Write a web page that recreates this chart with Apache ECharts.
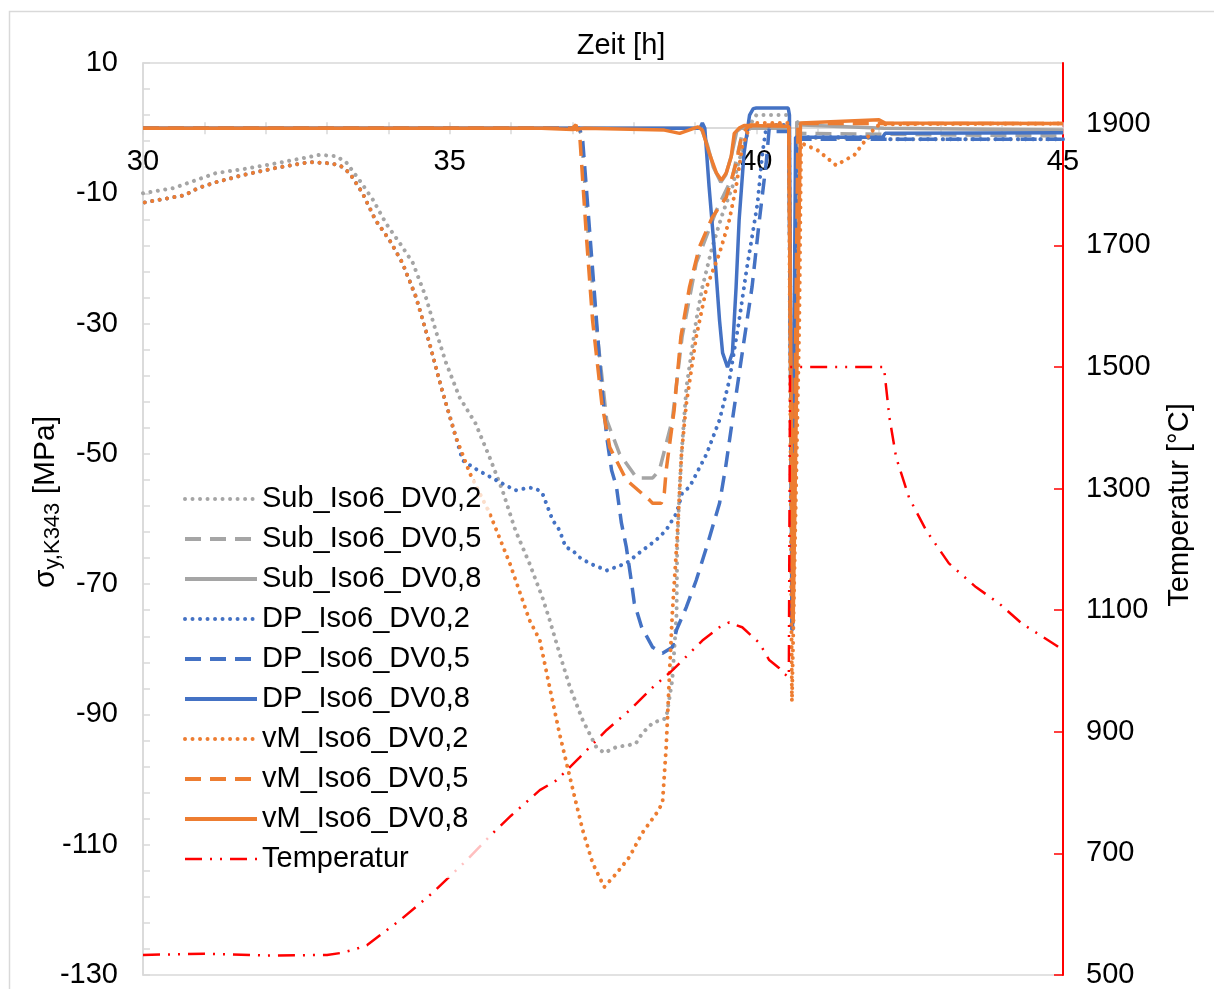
<!DOCTYPE html>
<html>
<head>
<meta charset="utf-8">
<script src="https://cdn.jsdelivr.net/npm/echarts@6/dist/echarts.min.js"></script>
<style>
html,body{margin:0;padding:0;background:#fff;}
#chart{width:1214px;height:989px;}
</style>
</head>
<body>
<div id="chart"></div>
<script>
// ---- data (time [h], stress [MPa] / temperature [°C]) ----
const seriesNames = ['Sub_Iso6_DV0,2','Sub_Iso6_DV0,5','Sub_Iso6_DV0,8','DP_Iso6_DV0,2','DP_Iso6_DV0,5','DP_Iso6_DV0,8','vM_Iso6_DV0,2','vM_Iso6_DV0,5','vM_Iso6_DV0,8','Temperatur'];
const xTicks = [30, 35, 40, 45];

const subDV02 = [[30,-10],[30.5,-9.2],[30.86,-8],[31.19,-6.9],[31.63,-6.3],[32.17,-5.4],[32.72,-4.4],[32.88,-4.1],[33.14,-4.3],[33.31,-5.2],[33.53,-8],[33.75,-11],[33.96,-14.6],[34.19,-17.7],[34.40,-20.7],[34.61,-25.9],[34.77,-31],[34.94,-36],[35.16,-41.3],[35.42,-45.3],[35.65,-50.5],[35.86,-55.6],[36.07,-61.7],[36.30,-66.8],[36.51,-72],[36.63,-75.5],[36.79,-80.6],[36.96,-85.8],[37.17,-90.9],[37.39,-95],[37.52,-95.9],[37.72,-95],[37.93,-94.7],[38.04,-94.4],[38.14,-92.9],[38.31,-91.3],[38.53,-90.6],[38.63,-84.7],[38.70,-74.5],[38.71,-64.3],[38.75,-55.1],[38.78,-50],[38.86,-39.8],[39.02,-29.5],[39.12,-24.4],[39.28,-18.3],[39.45,-13.1],[39.61,-9],[39.72,-4.9],[39.84,-1.4],[39.93,1],[40.0,2],[40.49,2],[40.535,1.5],[40.59,-76],[40.66,-1.5],[42.0,-1.5],[42.1,-1.7],[45,-1.7]];
const subDV05 = [[30,0],[37.1,0],[37.15,-1],[37.28,-19.2],[37.41,-32],[37.56,-44.8],[37.77,-50],[38.05,-53.7],[38.31,-53.7],[38.42,-52.5],[38.63,-44.8],[38.79,-32],[39.02,-20.7],[39.35,-12.6],[39.61,-7.5],[39.77,-0.8],[39.9,0.3],[40.53,0.3],[40.59,-76],[40.66,-0.8],[45,-1.2]];
const subDV08 = [[30,0],[39.1,0],[39.2,-2.5],[39.3,-6],[39.42,-8.3],[39.5,-7.2],[39.6,-4],[39.68,-0.5],[39.75,0],[40.53,0],[40.59,-76],[40.66,1],[40.75,0.5],[42.08,0],[45,-0.3]];
const dpDV02 = [[30.03,-11.4],[30.68,-10.3],[30.90,-9.2],[31.19,-8.3],[31.63,-7.2],[32.17,-6.1],[32.72,-5.2],[33.05,-5.4],[33.21,-5.7],[33.37,-6.9],[33.58,-10],[33.79,-14.1],[34.02,-17.2],[34.23,-20.7],[34.45,-25.9],[34.67,-33],[34.89,-40.7],[35.10,-47.4],[35.21,-51],[35.42,-52.3],[35.75,-54],[36.07,-55.6],[36.30,-55.2],[36.40,-55.3],[36.51,-56],[36.68,-60.2],[36.79,-61.7],[36.89,-64.3],[37.00,-64.8],[37.12,-65.9],[37.28,-66.8],[37.56,-67.9],[37.88,-66.8],[38.09,-65.2],[38.37,-63.2],[38.53,-61.7],[38.70,-59.1],[38.79,-56],[38.91,-55.1],[39.19,-50],[39.40,-44.8],[39.56,-38.7],[39.72,-29.5],[39.84,-21.8],[39.93,-16.7],[40.02,-11.5],[40.10,-3.8],[40.16,0],[40.25,0.5],[40.53,0.5],[40.59,-77],[40.66,-1.4],[42.05,-1.4],[42.1,-1.7],[45,-1.7]];
const dpDV05 = [[30,0],[37.12,0],[37.17,-2],[37.3,-18],[37.46,-37.6],[37.56,-47.4],[37.64,-52.5],[37.72,-55.1],[37.80,-60.6],[37.88,-64.3],[37.96,-69.4],[38.01,-72.9],[38.13,-76.6],[38.31,-79.7],[38.47,-80.6],[38.63,-79.7],[38.70,-77],[38.86,-73.5],[39.02,-69.4],[39.19,-64.3],[39.40,-57.6],[39.50,-52],[39.61,-44.8],[39.77,-34.5],[39.93,-24.4],[40.05,-14.1],[40.16,-5.4],[40.21,0],[40.3,-0.5],[40.53,-0.5],[40.59,-77],[40.66,-1.7],[45,-1.7]];
const dpDV08 = [[30,0],[39.08,0],[39.12,0.8],[39.16,0],[39.23,-9],[39.32,-19.2],[39.40,-29.5],[39.45,-34.5],[39.53,-36.7],[39.61,-34.5],[39.67,-24.4],[39.72,-14],[39.80,-3.8],[39.89,2],[39.95,3],[40.0,3.1],[40.52,3.1],[40.54,2],[40.58,-77],[40.64,-1.4],[42.06,-1.4],[42.1,-0.8],[45,-0.7]];
const vmDV02 = [[30.03,-11.4],[30.68,-10.3],[30.90,-9.2],[31.19,-8.3],[31.63,-7.2],[32.17,-6.1],[32.72,-5.2],[33.05,-5.4],[33.21,-5.7],[33.37,-6.9],[33.58,-10],[33.79,-14.1],[34.02,-17.2],[34.23,-20.7],[34.45,-25.9],[34.67,-33],[34.89,-40.7],[35.10,-47.4],[35.33,-53],[35.65,-59.1],[35.98,-66.8],[36.30,-75.5],[36.47,-78.6],[36.63,-85.8],[36.79,-92.9],[37.00,-101.2],[37.17,-107.8],[37.33,-112.8],[37.52,-116.5],[37.72,-114.4],[37.93,-111.9],[38.14,-108.2],[38.37,-105.2],[38.47,-103.6],[38.53,-95],[38.58,-84.7],[38.63,-74.5],[38.70,-64.3],[38.75,-55.6],[38.78,-50],[38.86,-42.2],[39.02,-32],[39.19,-24.4],[39.40,-19.2],[39.56,-14.1],[39.67,-9],[39.77,-2.9],[39.89,0.2],[40.0,0.8],[40.53,0.8],[40.58,-88],[40.70,-30],[40.73,-2.3],[41.0,-3.4],[41.3,-5.7],[41.6,-4.1],[41.95,0.3],[42.1,0.6],[45,0.7]];
const vmDV05 = [[30,0],[37.0,0],[37.06,0.5],[37.09,-0.5],[37.12,-1],[37.23,-16.7],[37.33,-29.5],[37.48,-42.2],[37.61,-49],[37.88,-54],[38.26,-57.1],[38.31,-57.6],[38.45,-57.6],[38.50,-56],[38.53,-52.5],[38.66,-43.3],[38.77,-32],[38.91,-24.4],[39.07,-18.3],[39.28,-13.7],[39.51,-10.6],[39.67,-5.4],[39.77,-0.8],[39.9,0.5],[40.53,0.5],[40.59,-76],[40.68,0.7],[45,0.7]];
const vmDV08 = [[30,0],[36.5,0],[37.0,-0.2],[37.2,0],[38.5,-0.3],[38.75,-0.8],[38.9,-0.3],[39.05,0.2],[39.12,-0.3],[39.23,-3.8],[39.35,-6.9],[39.43,-8],[39.51,-6.9],[39.59,-4.4],[39.64,-0.8],[39.72,0],[39.8,0.4],[40.53,0.3],[40.6,-76],[40.72,0.8],[42.0,1.3],[42.1,0.8],[45,0.7]];
const temperatur = [[30.0,533],[31.0,535],[32.0,532],[33.0,533],[33.21,536],[33.45,542],[33.65,549],[34.19,590],[34.72,635],[35.28,689],[35.70,733],[36.0,762],[36.47,804],[36.74,820],[37.12,858],[37.56,903],[37.93,935],[38.31,973],[38.63,1001],[38.91,1029],[39.12,1050],[39.40,1072],[39.56,1080],[39.65,1076],[39.77,1072],[40.05,1046],[40.21,1018],[40.37,1005],[40.46,995],[40.53,990],[40.55,1500],[42.08,1500],[42.17,1417],[42.28,1351],[42.49,1285],[42.77,1231],[43.14,1177],[43.58,1138],[43.96,1111],[44.33,1078],[44.89,1042],[45,1034]];

// ---- styles ----
const GRAY = '#A5A5A5', BLUE = '#4472C4', ORANGE = '#ED7D31', RED = '#FF0000';
const FONT = '"Liberation Sans", Arial, sans-serif';
const DOT = [0.01, 7.5], DASH = [16, 9], DASHDOTDOT = [17, 8, 2, 8, 2, 8];
const lineTypes = [DOT, DASH, 'solid', DOT, DASH, 'solid', DOT, DASH, 'solid', DASHDOTDOT];
const lineColors = [GRAY, GRAY, GRAY, BLUE, BLUE, BLUE, ORANGE, ORANGE, ORANGE, RED];
const lineWidths = [4, 3.5, 3.5, 4, 3.5, 3.5, 4, 3.5, 3.5, 2.5];
const seriesData = [subDV02, subDV05, subDV08, dpDV02, dpDV05, dpDV08, vmDV02, vmDV05, vmDV08, temperatur];

const series = seriesNames.map(function (name, i) {
  return {
    name: name, type: 'line', data: seriesData[i], yAxisIndex: i === 9 ? 1 : 0, xAxisIndex: 0,
    symbol: 'none', showSymbol: false, smooth: false, animation: false,
    lineStyle: { color: lineColors[i], width: lineWidths[i], type: lineTypes[i], cap: lineTypes[i] === DOT ? 'round' : 'butt' },
    itemStyle: { color: lineColors[i] }
  };
});
const legendData = seriesNames.map(function (name, i) {
  return { name: name, lineStyle: { width: lineWidths[i] === 2.5 ? 2.5 : 4, type: lineTypes[i], cap: lineTypes[i] === DOT ? 'round' : 'butt', color: lineColors[i] } };
});

const chart = echarts.init(document.getElementById('chart'), null, { renderer: 'canvas' });
const axisGray = '#D9D9D9';
const GRID_TOP = 63, GRID_BOTTOM_Y = 975;
// pixel offset that moves the bottom x axis up to the y = 0 line of the left axis
const zeroOffset = -((GRID_BOTTOM_Y - GRID_TOP) * (0 - (-130)) / (10 - (-130)));
const option = {
  animation: false,
  backgroundColor: '#fff',
  textStyle: { fontFamily: FONT },
  grid: { left: 143, right: 151, top: GRID_TOP, bottom: 989 - GRID_BOTTOM_Y, show: true, borderColor: axisGray, borderWidth: 1.5,
    containLabel: false, outerBoundsMode: 'none' },
  xAxis: [{
    type: 'value', position: 'bottom', min: 30, max: 45, interval: 1, offset: zeroOffset,
    axisLine: { show: true, onZero: false, lineStyle: { color: axisGray, width: 1.5 } },
    axisTick: { show: true, inside: false, length: 6, lineStyle: { color: axisGray, width: 1.5 } },
    axisLabel: { fontSize: 29, color: '#000', fontFamily: FONT, margin: 19,
      formatter: function (v) { return xTicks.indexOf(v) >= 0 ? String(v) : ''; } },
    splitLine: { show: false }
  }, {
    type: 'value', position: 'bottom', min: 30, max: 45, interval: 1, offset: zeroOffset,
    axisLine: { show: true, onZero: false, lineStyle: { color: axisGray, width: 1.5 } },
    axisTick: { show: true, inside: true, length: 6, lineStyle: { color: axisGray, width: 1.5 } },
    axisLabel: { show: false },
    splitLine: { show: false }
  }],
  yAxis: [{
    type: 'value', position: 'left', min: -130, max: 10, interval: 20,
    axisLine: { show: true, onZero: false, lineStyle: { color: axisGray, width: 1.5 } },
    axisTick: { show: true, inside: true, length: 7, lineStyle: { color: axisGray, width: 1.5 } },
    minorTick: { show: true, splitNumber: 5, length: 7, lineStyle: { color: axisGray, width: 1.5 } },
    axisLabel: { fontSize: 29, color: '#000', fontFamily: FONT, margin: 25 },
    splitLine: { show: false }
  }, {
    type: 'value', position: 'right', min: 500, max: 2000, interval: 200,
    axisLine: { show: true, onZero: false, lineStyle: { color: RED, width: 2 } },
    axisTick: { show: true, inside: true, length: 9, lineStyle: { color: RED, width: 1.5 } },
    axisLabel: { fontSize: 29, color: '#000', fontFamily: FONT, margin: 23, showMaxLabel: false,
      formatter: function (v) { return v >= 2000 ? '' : String(v); } },
    splitLine: { show: false }
  }],
  legend: {
    orient: 'vertical', left: 175, top: 480,
    itemWidth: 72, itemHeight: 14, itemGap: 10,
    padding: [4, 8, 4, 8],
    backgroundColor: 'rgba(255,255,255,0.75)',
    itemStyle: { color: 'rgba(0,0,0,0)', borderColor: 'rgba(0,0,0,0)', borderWidth: 0 },
    textStyle: { fontSize: 29, lineHeight: 30, color: '#000', fontFamily: FONT },
    data: legendData
  },
  graphic: [
    { type: 'rect', silent: true, z: -10, shape: { x: 9.5, y: 11.5, width: 1220, height: 1000 },
      style: { fill: 'none', stroke: axisGray, lineWidth: 1.5 } },
    { type: 'text', silent: true, x: 621, y: 46,
      style: { text: 'Zeit [h]', fontSize: 29, fontFamily: FONT, fill: '#000', align: 'center', verticalAlign: 'middle' } },
    { type: 'text', silent: true, x: 46, y: 502, rotation: Math.PI / 2,
      style: { text: '{a|σ}{b|y,K343}{a| [MPa]}', fontFamily: FONT, fill: '#000', align: 'center', verticalAlign: 'middle',
        rich: { a: { fontSize: 30, lineHeight: 36, fontFamily: FONT, fill: '#000' },
                b: { fontSize: 22, lineHeight: 22, fontFamily: FONT, fill: '#000', verticalAlign: 'bottom' } } } },
    { type: 'text', silent: true, x: 1180, y: 505, rotation: Math.PI / 2,
      style: { text: 'Temperatur [°C]', fontSize: 29, fontFamily: FONT, fill: '#000', align: 'center', verticalAlign: 'middle' } }
  ],
  series: series
};
chart.setOption(option);
</script>
</body>
</html>
